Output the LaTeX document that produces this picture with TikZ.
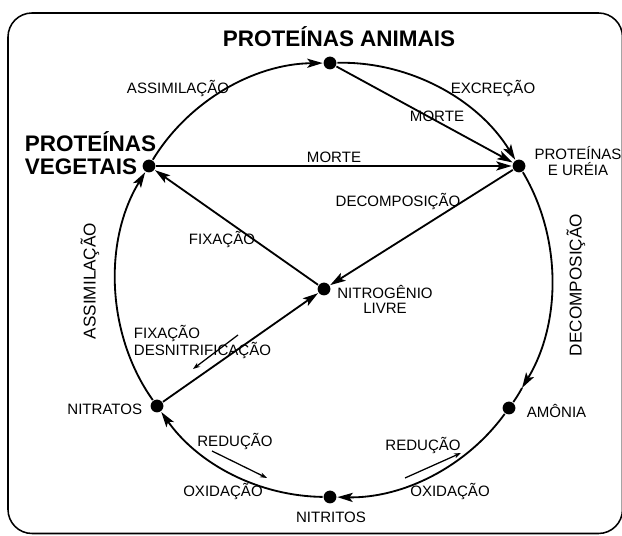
\documentclass[tikz,border=0pt]{standalone}
\usepackage{fontspec}
\setmainfont{Liberation Sans}
\usetikzlibrary{arrows.meta}
\newcommand\lbl{\fontsize{10.7}{11.3}\selectfont}
\newcommand\vlbl{\fontsize{12.2}{14}\selectfont}
\newcommand\ttl{\fontsize{16}{16.3}\selectfont\bfseries}
\tikzset{
  dot/.style={circle,fill,inner sep=0pt,minimum size=0.32cm},
  big/.style={-{Stealth[length=11pt,width=6.5pt,inset=2.5pt]}},
  small/.style={line width=0.9pt,-{Stealth[length=5pt,width=3.5pt]}},
  lab/.style={inner sep=0pt,font=\lbl},
}
\begin{document}
\begin{tikzpicture}[x=0.025cm,y=0.025cm,line width=1.3pt]
\useasboundingbox (0,0) rectangle (622,536);
\draw[line width=1.1pt,rounded corners=0.6cm] (8,2.5) rectangle (622.5,523);
\node[dot] (A) at (330,473) {};
\node[dot] (V) at (149,370) {};
\node[dot] (U) at (519,370) {};
\node[dot] (M) at (509,128) {};
\node[dot] (I) at (330,39) {};
\node[dot] (T) at (157,130) {};
\node[dot] (N) at (324,247) {};
\coordinate (P) at (522,148);
\draw[big] (V) to[bend left=29,looseness=.9] (A);
\draw[big] (A) to[bend left=30,looseness=.9] (U);
\draw[big] (U) to[bend left=31,looseness=.9] (P);
\draw (P) to[bend left=3] (M);
\draw[big] (M) to[bend left=27.5,looseness=.9] (I);
\draw[big] (I) to[bend left=27,looseness=.9] (T);
\draw[big] (T) to[bend left=33.5,looseness=.9] (V);
\draw[big] (A) -- (U);
\draw[big] (V) -- (U);
\draw[big] (U) -- (N);
\draw[big] (N) -- (V);
\draw[big] (T) -- (N);
\coordinate (f1) at (238,201);
\coordinate (f2) at (193,167);
\draw[small] (f1) -- (f2);
\coordinate (r1) at (212,85);
\coordinate (r2) at (267,58);
\draw[small] (r1) -- (r2);
\coordinate (s1) at (405,58);
\coordinate (s2) at (461,83);
\draw[small] (s1) -- (s2);
\node[inner sep=0pt,font=\ttl,anchor=base] (tanim) at (339,489) {PROTEÍNAS ANIMAIS};
\node[inner sep=0pt,font=\ttl,align=left,anchor=north west] (tveg) at (24,405) {PROTEÍNAS\\VEGETAIS};
\node[lab,align=center,anchor=north] (tureia) at (578,390) {PROTEÍNAS\\E URÉIA};
\node[lab,align=center,anchor=north] (tnitro) at (385,252) {NITROGÊNIO\\LIVRE};
\node[lab,anchor=base east] (tnitra) at (143,121) {NITRATOS};
\node[lab,anchor=base] (tnitri) at (331,13) {NITRITOS};
\node[lab,anchor=base west] (tamon) at (526,118) {AMÔNIA};
\node[lab,anchor=base] (lassim) at (178,442) {ASSIMILAÇÃO};
\node[lab,anchor=base] (lexcr) at (493,442) {EXCREÇÃO};
\node[lab,anchor=base] (lmortea) at (437,414) {MORTE};
\node[lab,anchor=base] (lmorteb) at (334,373) {MORTE};
\node[lab,anchor=base] (ldecomp) at (398,329) {DECOMPOSIÇÃO};
\node[lab,anchor=base] (lfix) at (222,291) {FIXAÇÃO};
\node[lab,align=left,anchor=north west] (lfixdes) at (133,212) {FIXAÇÃO\\DESNITRIFICAÇÃO};
\node[lab,anchor=base] (lredl) at (235,89) {REDUÇÃO};
\node[lab,anchor=base] (loxil) at (223,39) {OXIDAÇÃO};
\node[lab,anchor=base] (lredr) at (423,85) {REDUÇÃO};
\node[lab,anchor=base] (loxir) at (450,39) {OXIDAÇÃO};
\node[inner sep=0pt,font=\vlbl,rotate=90] (vassim) at (90,255) {ASSIMILAÇÃO};
\node[inner sep=0pt,font=\vlbl,rotate=90] (vdecomp) at (576,251) {DECOMPOSIÇÃO};
\end{tikzpicture}
\end{document}
